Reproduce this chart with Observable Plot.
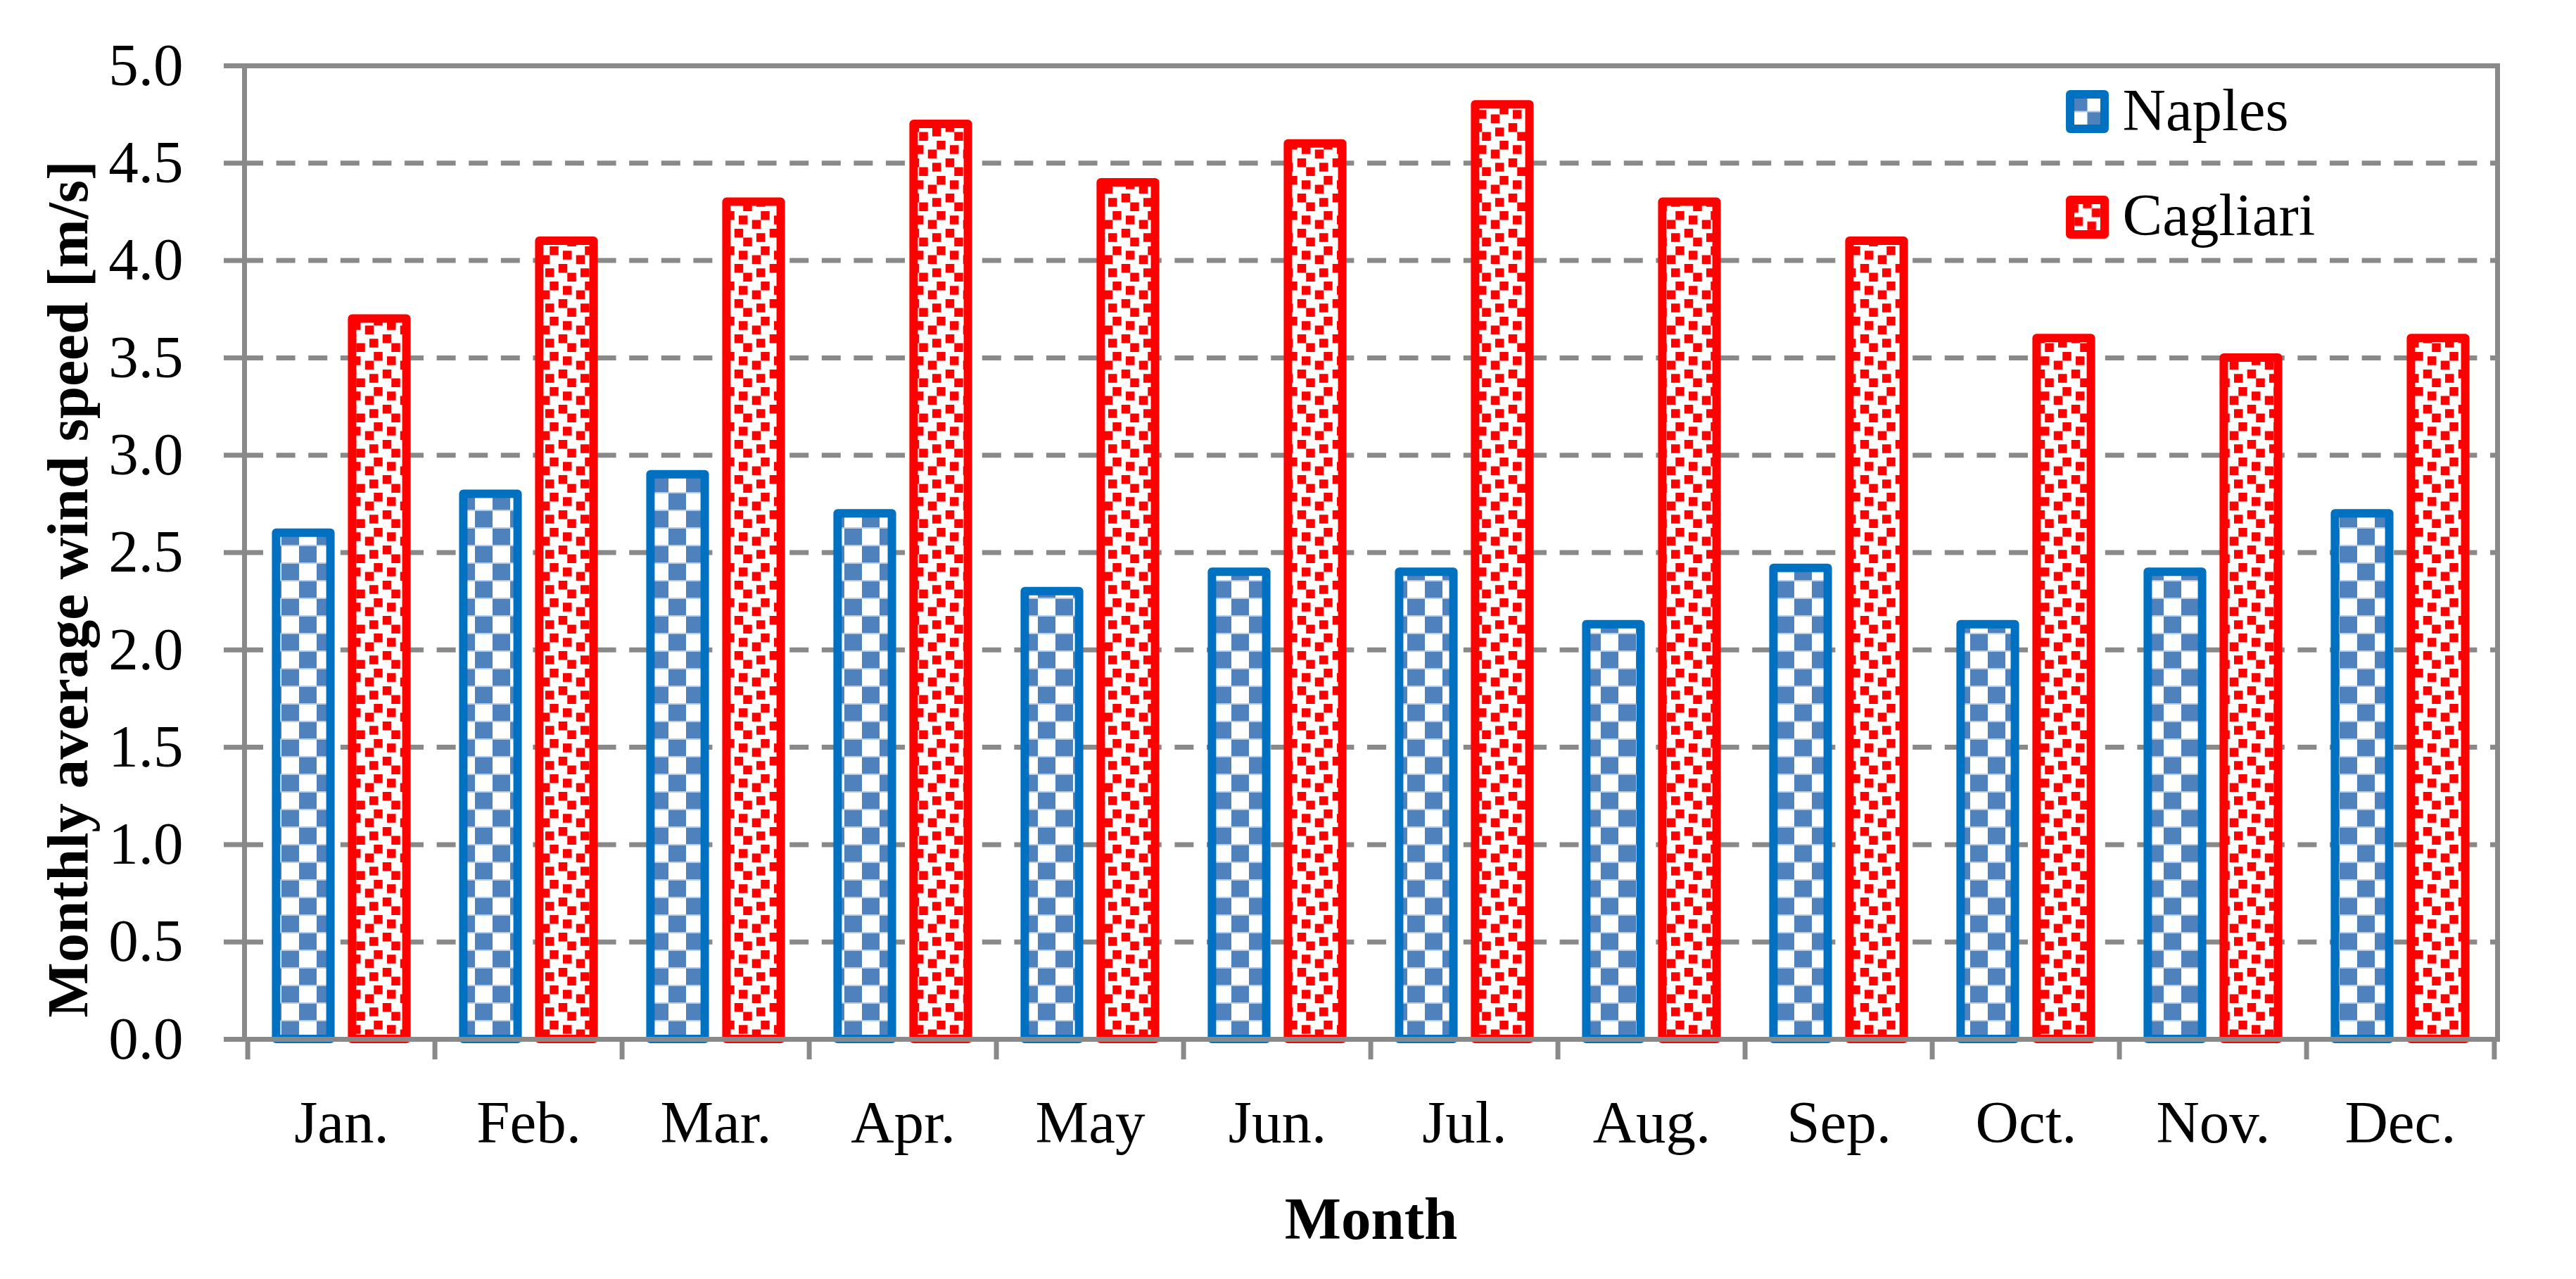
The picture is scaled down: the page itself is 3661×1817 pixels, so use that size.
<!DOCTYPE html>
<html><head><meta charset="utf-8">
<script src="https://cdn.jsdelivr.net/npm/d3@7"></script>
<script src="https://cdn.jsdelivr.net/npm/@observablehq/plot@0.6"></script>
<style>html,body{margin:0;padding:0;background:#fff;overflow:hidden;}</style>
</head><body><div id="chart"></div>
<script>
// ---- data ----
const months = ["Jan.","Feb.","Mar.","Apr.","May","Jun.","Jul.","Aug.","Sep.","Oct.","Nov.","Dec."];
const naples = [2.6, 2.8, 2.9, 2.7, 2.3, 2.4, 2.4, 2.13, 2.42, 2.13, 2.4, 2.7];
const cagliari = [3.7, 4.1, 4.3, 4.7, 4.4, 4.6, 4.8, 4.3, 4.1, 3.6, 3.5, 3.6];
const yTicks = [0.0, 0.5, 1.0, 1.5, 2.0, 2.5, 3.0, 3.5, 4.0, 4.5, 5.0];
const seriesNames = ["Naples", "Cagliari"];
const yLabel = "Monthly average wind speed [m/s]";
const xLabel = "Month";

// ---- layout / style ----
const W = 3661, H = 1817;
const mL = 347, mR = 112, mT = 93, mB = 341;
const bw = (W - mL - mR) / months.length;
const barW = 78, halfGap = 15;
const grey = "#898989";
const FS = 85;
const styles = {
  Naples: {fill: "url(#patNaples)", stroke: "#0070C0"},
  Cagliari: {fill: "url(#patCagliari)", stroke: "#FF0000"}
};

const rows = months.flatMap((m, i) => [
  {month: m, city: "Naples", v: naples[i]},
  {month: m, city: "Cagliari", v: cagliari[i]}
]);

const legendMarks = seriesNames.flatMap((name, i) => [
  Plot.dot([name], {frameAnchor: "top-right", dx: -583, dy: 65 + i * 150, symbol: "square", r: 27.6,
    fill: styles[name].fill, stroke: styles[name].stroke, strokeWidth: 12, strokeLinejoin: "round"}),
  Plot.text([name], {text: d => d, frameAnchor: "top-right", dx: -533, dy: 64 + i * 149,
    textAnchor: "start", lineAnchor: "middle", fontSize: FS, fill: "#000"})
]);

const plot = Plot.plot({
  width: W, height: H,
  marginLeft: mL, marginRight: mR, marginTop: mT, marginBottom: mB,
  style: {fontFamily: "'Liberation Serif','Times New Roman',serif", fontSize: FS + "px", background: "#fff", color: "#000", overflow: "visible"},
  x: {domain: months, padding: 0, label: null},
  y: {domain: [0, 5], label: null},
  marks: [
    Plot.gridY({ticks: yTicks.slice(1, -1), stroke: grey, strokeOpacity: 1, strokeWidth: 7, strokeDasharray: "27,18.6"}),
    Plot.barY(rows.filter(d => d.city === "Naples"), {x: "month", y: "v",
      fill: styles.Naples.fill, stroke: styles.Naples.stroke, strokeWidth: 12, strokeLinejoin: "round",
      insetLeft: bw / 2 - halfGap - barW, insetRight: bw / 2 + halfGap}),
    Plot.barY(rows.filter(d => d.city === "Cagliari"), {x: "month", y: "v",
      fill: styles.Cagliari.fill, stroke: styles.Cagliari.stroke, strokeWidth: 12, strokeLinejoin: "round",
      insetLeft: bw / 2 + halfGap, insetRight: bw / 2 - halfGap - barW}),
    Plot.frame({stroke: grey, strokeWidth: 7}),
    Plot.axisY({ticks: yTicks, tickFormat: d => d.toFixed(1), tickSize: 29, tickPadding: 58,
      stroke: grey, strokeWidth: 7, fontSize: FS, label: null}),
    Plot.axisX({ticks: months, tickSize: 29, dx: -bw / 2, tickFormat: () => "", stroke: grey, strokeWidth: 7, label: null}),
    Plot.axisX({ticks: [months[months.length - 1]], tickSize: 29, dx: bw / 2, tickFormat: () => "", stroke: grey, strokeWidth: 7, label: null}),
    Plot.axisX({tickSize: 0, tickPadding: 86, fontSize: FS, label: null}),
    Plot.text([yLabel], {text: d => d, frameAnchor: "left", rotate: -90, dx: -250, dy: 52,
      fontWeight: "bold", fontSize: 83, textAnchor: "middle", lineAnchor: "middle", fill: "#000"}),
    Plot.text([xLabel], {text: d => d, frameAnchor: "bottom", dy: 256,
      fontWeight: "bold", fontSize: FS, textAnchor: "middle", lineAnchor: "middle", fill: "#000"}),
    ...legendMarks
  ]
});

const ns = "http://www.w3.org/2000/svg";
const defs = document.createElementNS(ns, "defs");
defs.innerHTML = `
<pattern id="patNaples" patternUnits="userSpaceOnUse" width="50" height="50">
  <rect width="50" height="50" fill="#fff"/>
  <rect x="0" y="0" width="25" height="25" fill="#4F81BD"/>
  <rect x="25" y="25" width="25" height="25" fill="#4F81BD"/>
  <rect x="0" y="24" width="50" height="2" fill="#B7CAE6"/>
  <rect x="0" y="0" width="50" height="1" fill="#B7CAE6"/>
  <rect x="0" y="49" width="50" height="1" fill="#B7CAE6"/>
</pattern>
<pattern id="patCagliari" patternUnits="userSpaceOnUse" width="50" height="50">
  <rect width="50" height="50" fill="#fff"/>
  <g fill="#FF0000">
    <rect x="31.25" y="0" width="12.5" height="12.5"/>
    <rect x="0" y="6.25" width="12.5" height="12.5"/>
    <rect x="18.75" y="12.5" width="12.5" height="12.5"/>
    <rect x="43.75" y="25" width="12.5" height="12.5"/>
    <rect x="-6.25" y="25" width="12.5" height="12.5"/>
    <rect x="25" y="31.25" width="12.5" height="12.5"/>
    <rect x="6.25" y="37.5" width="12.5" height="12.5"/>
  </g>
</pattern>`;
plot.insertBefore(defs, plot.firstChild);
document.getElementById("chart").appendChild(plot);
</script>
</body></html>
